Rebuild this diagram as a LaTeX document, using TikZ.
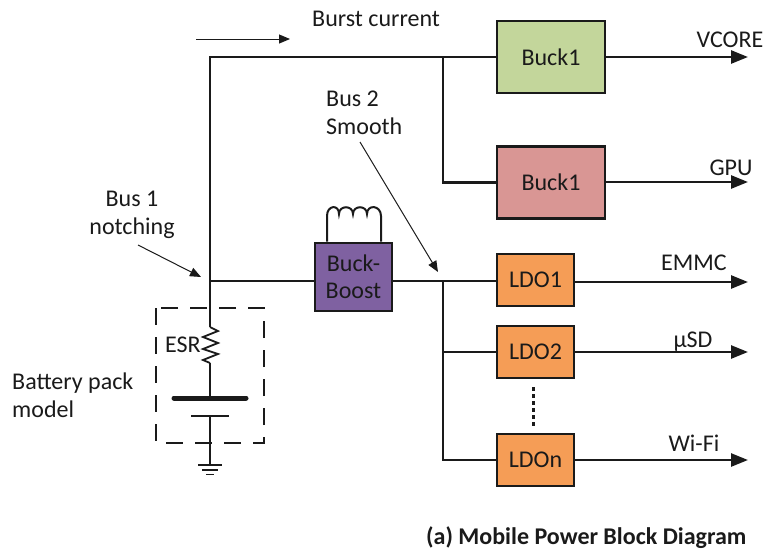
\documentclass[tikz,border=0pt]{standalone}
\usepackage{fontspec}
\setmainfont{Carlito}
\usetikzlibrary{arrows.meta}
\definecolor{buckgreen}{HTML}{C3D69B}
\definecolor{buckred}{HTML}{D99694}
\definecolor{boostpurple}{HTML}{7F61A1}
\definecolor{ldoorange}{HTML}{F59D56}
\definecolor{ink}{HTML}{1A1A1A}
\tikzset{
  bus/.style={line width=2.6pt,draw=ink},
  output/.style={bus,-{Triangle[length=17pt,width=13pt]}},
  thin arrow/.style={line width=1pt,draw=ink,-{Triangle[length=11pt,width=9pt]}},
  block/.style={draw=ink,line width=2.6pt,text=ink,inner sep=0pt,align=center,font=\fontsize{24}{27}\selectfont},
  buck/.style={block,minimum width=108pt,minimum height=72pt},
  ldo/.style={block,minimum width=77pt,minimum height=52pt,fill=ldoorange},
  label/.style={text=ink,inner sep=0pt,align=center,font=\fontsize{24}{28}\selectfont},
}
\begin{document}
\begin{tikzpicture}[x=1pt,y=-1pt]
  \useasboundingbox (0,0) rectangle (765,550);
  \node[buck,fill=buckgreen] (B1) at (551,57) {Buck1};
  \node[buck,fill=buckred] (B2) at (551,182.5) {Buck1};
  \node[block,fill=boostpurple,minimum width=77pt,minimum height=68pt] (BB) at (353.5,277) {Buck-\\Boost};
  \node[ldo] (L1) at (535.5,280) {LDO1};
  \node[ldo] (L2) at (535.5,352) {LDO2};
  \node[ldo] (Ln) at (535.5,460) {LDOn};
  \coordinate (top) at (210,57);
  \coordinate (J1) at (210,281);
  \coordinate (J2) at (443,281);
  \coordinate (J3) at (443,57);
  % bus 1 and battery
  \draw[bus,line join=miter] (J1) -- (top) -- (B1.west);
  \draw[bus] (J3) |- (B2.west);
  \draw[bus] (J1) -- (J1-|BB.west);
  \draw[bus] (J2-|BB.east) -- (J2-|L1.west);
  \draw[bus] (J2) |- (Ln.west);
  \draw[bus] (J2|-L2.west) -- (L2.west);
  % outputs
  \node[label,anchor=base] (vcore) at (730,47) {VCORE};
  \node[label,anchor=base] (gpu) at (731,175) {GPU};
  \node[label,anchor=base] (emmc) at (694,270) {EMMC};
  \node[label,anchor=base] (usd) at (693,347) {µSD};
  \node[label,anchor=base] (wifi) at (694,451) {Wi-Fi};
  \coordinate (o1) at (748,57);
  \coordinate (o2) at (748,182);
  \coordinate (o3) at (748,282);
  \coordinate (o4) at (748,352);
  \coordinate (o5) at (748,460);
  \draw[output] (B1.east|-o1) -- (o1);
  \draw[output] (B2.east|-o2) -- (o2);
  \draw[output] (L1.east|-o3) -- (o3);
  \draw[output] (L2.east|-o4) -- (o4);
  \draw[output] (Ln.east|-o5) -- (o5);
  \draw[line width=2.2pt,draw=ink,dash pattern=on 3.5pt off 3.5pt] (L2.south) ++(-2,8) -- ++(0,41);
  % inductor
  \draw[line width=2pt,draw=ink] (BB.north-|327,0) -- (327,216) .. controls (327,205) and (339,204) .. (339,214)
    .. controls (339,205) and (353,205) .. (353,214) .. controls (353,205) and (367,205) .. (367,214)
    .. controls (367,204) and (381,205) .. (381,216) -- (BB.north-|381,0);
  % battery pack
  \coordinate (rtop) at (210,327);
  \coordinate (rbot) at (210,363);
  \coordinate (cell) at (210,398);
  \coordinate (gnd) at (210,465);
  \draw[bus] (J1) -- (rtop);
  \draw[line width=1.8pt,draw=ink] (rtop) -- (218,331) -- (203,337) -- (218,343) -- (203,349) -- (218,354) -- (203,360) -- (rbot);
  \draw[bus] (rbot) -- (cell);
  \draw[line width=5pt,draw=ink,line cap=round] (174,398) -- (246,398);
  \draw[line width=1.8pt,draw=ink] (191,416) -- (229,416);
  \draw[bus] (210,416) -- (gnd);
  \draw[line width=1.8pt,draw=ink] (198,465) -- (222,465);
  \draw[line width=1.8pt,draw=ink] (202,470) -- (218,470);
  \draw[line width=1.8pt,draw=ink] (206,474.5) -- (214,474.5);
  \draw[line width=2pt,draw=ink,dash pattern=on 17pt off 12pt] (156,308) rectangle (264,443);
  % labels
  \node[label,anchor=base west] (esr) at (165,352) {ESR};
  \node[label,anchor=base west,align=left] (pack) at (12,417) {Battery pack\\model};
  \node[label,anchor=base west] (burst) at (312,26) {Burst current};
  \node[label,anchor=base] (busa) at (132,234) {Bus 1\\notching};
  \node[label,align=left,anchor=base west] (busb) at (326,134) {Bus 2\\Smooth};
  \node[label,anchor=base west,font=\bfseries\fontsize{24}{28}\selectfont] (title) at (426,544) {(a) Mobile Power Block Diagram};
  \coordinate (bs) at (196,39);
  \coordinate (be) at (290,39);
  \draw[thin arrow] (bs) -- (be);
  \draw[thin arrow] (138,245) -- (201,277);
  \draw[thin arrow] (360,142) -- (438,272);
\end{tikzpicture}
\end{document}
